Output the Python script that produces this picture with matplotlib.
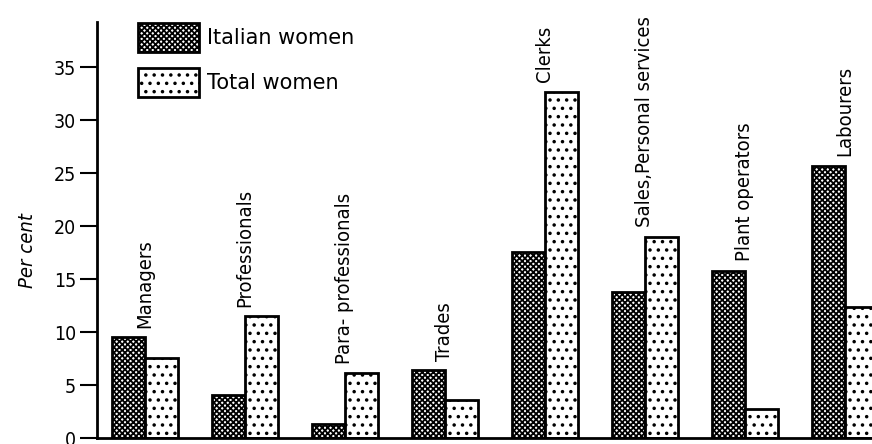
import numpy as np
import matplotlib
matplotlib.use("Agg")
import matplotlib.pyplot as plt
from matplotlib.patches import Rectangle

categories = ["Managers", "Professionals", "Para- professionals", "Trades", "Clerks",
              "Sales,Personal services", "Plant operators", "Labourers"]
italian_women = [9.5, 4.1, 1.3, 6.4, 17.6, 13.8, 15.8, 25.7]
total_women = [7.6, 11.5, 6.1, 3.6, 32.7, 19.0, 2.7, 12.4]
yticks = [0, 5, 10, 15, 20, 25, 30, 35]

plt.rcParams['hatch.linewidth'] = 1.3
cond = dict(family='DejaVu Sans', stretch='condensed')

fig = plt.figure(figsize=(8.72, 4.44), dpi=100)
ax = fig.add_axes([0.111, 0.0135, 0.889, 0.937])

x = np.arange(len(categories))
w = 0.33
ax.bar(x - w / 2, italian_women, w, facecolor='white', edgecolor='black',
       hatch='xxxxxx', linewidth=2)
ax.bar(x + w / 2, total_women, w, facecolor='white', edgecolor='black',
       hatch='..', linewidth=2)

for i, name in enumerate(categories):
    top = max(italian_women[i], total_women[i])
    ax.text(x[i], top + 0.9, name, rotation=90, ha='center', va='bottom',
            fontsize=14.5, **cond)

ax.set_xlim(-0.48, 7.27)
ax.set_ylim(0, 39.3)
ax.set_yticks(yticks)
ax.set_yticklabels([str(t) for t in yticks], fontsize=14, **cond)
ax.tick_params(axis='y', length=12, width=1.5, pad=3)
ax.set_xticks([])
for s in ['top', 'right']:
    ax.spines[s].set_visible(False)
ax.spines['left'].set_linewidth(2)
ax.spines['bottom'].set_linewidth(2)
ax.set_ylabel('Per cent', fontsize=14.5, style='italic', **cond)
ax.yaxis.set_label_coords(-0.077, 0.45)

# legend drawn by hand
legend = [("Italian women", 'xxxxxx', 23), ("Total women", '..', 68)]
for label, hatch, ytop in legend:
    ax.add_patch(Rectangle((138, 444 - ytop - 29), 61, 29, transform=None,
                           facecolor='white', edgecolor='black', hatch=hatch,
                           linewidth=2, clip_on=False))
    fig.text(207 / 872, 1 - (ytop + 15) / 444, label, fontsize=15, va='center',
             ha='left', family='DejaVu Sans')

fig.savefig('out.png', dpi=100)
